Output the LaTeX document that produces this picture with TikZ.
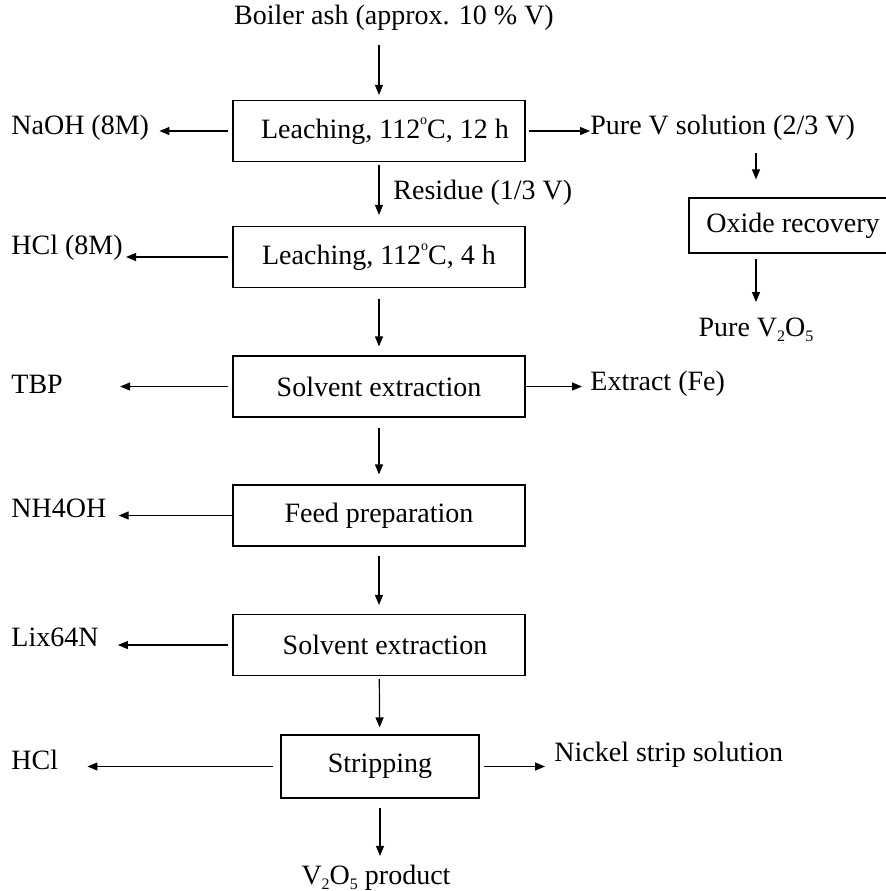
\documentclass[tikz,border=0pt]{standalone}
\usepackage{fontspec}
\setmainfont{Liberation Serif}
\usetikzlibrary{arrows.meta}

\newcommand{\chemsub}[1]{\raisebox{-0.35ex}{\fontsize{8}{8}\selectfont #1}}
\newcommand{\dego}{\raisebox{1.05ex}{\fontsize{7}{7}\selectfont o}}

\tikzset{
    stepbox/.style={draw, line width=0.6pt, minimum width=146pt, minimum height=30.5pt, inner sep=0pt},
    chem/.style={inner sep=0pt},
    flow/.style={-{Triangle[length=5pt,width=4pt]}, line width=0.6pt}
}

\begin{document}
\begin{tikzpicture}[x=0.5pt, y=-0.5pt, font=\fontsize{14}{16}\selectfont]
    \useasboundingbox (0,0) rectangle (886,891);
    \clip (0,0) rectangle (886,891);

    \node[chem] (ash) at (394,18) {Boiler ash (approx. 10 \% V)};
    \node[stepbox] (leach1) at (379,131) {\hspace*{6pt}Leaching, 112\dego C, 12 h};
    \node[stepbox] (leach2) at (379,257) {Leaching, 112\dego C, 4 h};
    \node[stepbox] (sx1) at (379,386.5) {Solvent extraction};
    \node[stepbox] (feed) at (379,515.5) {Feed preparation};
    \node[stepbox] (sx2) at (379,645) {\hspace*{6pt}Solvent extraction};
    \node[stepbox, minimum width=99pt, minimum height=31.5pt] (strip) at (380,766.5) {Stripping};
    \node[chem] (product) at (376,878) {V\chemsub{2}O\chemsub{5} product};

    \node[chem, anchor=west] (naoh) at (11,128) {NaOH (8M)};
    \node[chem, anchor=west] (hcl8) at (11,248) {HCl (8M)};
    \node[chem, anchor=west] (tbp) at (11,384) {TBP};
    \node[chem, anchor=west] (nh4oh) at (11,508) {NH4OH};
    \node[chem, anchor=west] (lix) at (11,637) {Lix64N};
    \node[chem, anchor=west] (hcl) at (11,760) {HCl};

    \node[chem, anchor=west] (purev) at (590,128) {Pure V solution (2/3 V)};
    \node[chem, anchor=west] (residue) at (393,193) {Residue (1/3 V)};
    \node[stepbox, minimum width=104pt, minimum height=27.5pt] (oxide) at (793,225.5) {Oxide recovery};
    \node[chem] (purev2o5) at (756,330) {Pure V\chemsub{2}O\chemsub{5}};
    \node[chem, anchor=west] (fe) at (590,384) {Extract (Fe)};
    \node[chem, anchor=west] (nickel) at (554,755) {Nickel strip solution};

    \draw[flow, shorten <=7pt, shorten >=2.5pt] (ash.south -| leach1.north) -- (leach1.north);
    \draw[flow, shorten <=1.5pt, shorten >=5.5pt] (leach1) -- (leach2);
    \draw[flow, shorten <=5.5pt, shorten >=4.5pt] (leach2) -- (sx1);
    \draw[flow, shorten <=5pt, shorten >=5pt] (sx1) -- (feed);
    \draw[flow, shorten <=4.5pt, shorten >=4.5pt] (feed) -- (sx2);
    \draw[flow, shorten <=1.5pt, shorten >=3.5pt] (sx2) -- (strip);
    \draw[flow, shorten <=4.5pt, shorten >=4.5pt] (strip.south) -- (strip.south |- product.north);

    \draw[flow, shorten <=2pt, shorten >=5pt] (leach1.west) -- (leach1.west -| naoh.east);
    \draw[flow, shorten <=2pt, shorten >=1.5pt] (leach2.west) -- (leach2.west -| hcl8.east);
    \draw[flow, shorten <=2pt, shorten >=28.5pt] (sx1.west) -- (sx1.west -| tbp.east);
    \draw[flow, shorten >=6pt] (feed.west) -- (feed.west -| nh4oh.east);
    \draw[flow, shorten <=2pt, shorten >=9.5pt] (sx2.west) -- (sx2.west -| lix.east);
    \draw[flow, shorten <=3.5pt, shorten >=14.5pt] (strip.west) -- (strip.west -| hcl.east);

    \draw[flow, shorten <=1.5pt] (leach1.east) -- (leach1.east -| purev.west);
    \draw[flow, shorten >=4pt] (sx1.east) -- (sx1.east -| fe.west);
    \draw[flow, shorten <=2pt, shorten >=4.5pt] (strip.east) -- (strip.east -| nickel.west);
    \draw[flow, shorten <=6pt, shorten >=9pt] (purev.south -| purev2o5.north) -- (oxide.north -| purev2o5.north);
    \draw[flow, shorten <=2.5pt, shorten >=8pt] (oxide.south -| purev2o5.north) -- (purev2o5.north);
\end{tikzpicture}
\end{document}
